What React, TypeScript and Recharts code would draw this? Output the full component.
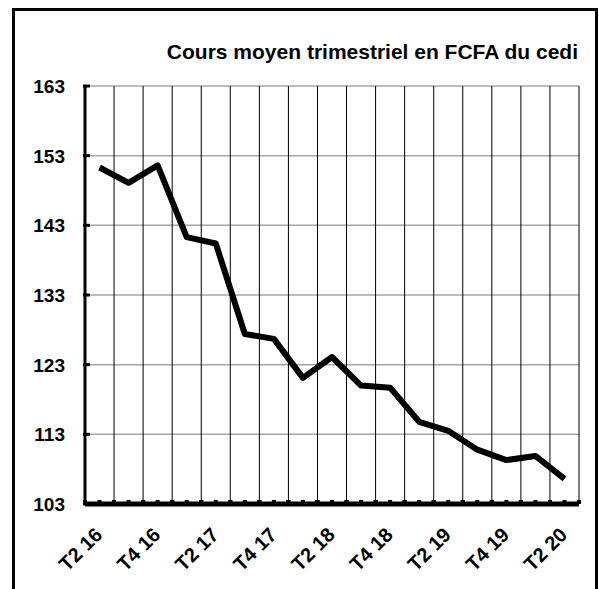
import React from "react";
import { LineChart, Line, XAxis, YAxis, CartesianGrid } from "recharts";

const quarters = [
  "T2 16", "T3 16", "T4 16", "T1 17", "T2 17", "T3 17", "T4 17", "T1 18", "T2 18",
  "T3 18", "T4 18", "T1 19", "T2 19", "T3 19", "T4 19", "T1 20", "T2 20",
];
const cediRate = [
  151.3, 149.1, 151.6, 141.3, 140.4, 127.4, 126.7, 121.1, 124.1,
  120.0, 119.7, 114.8, 113.5, 110.8, 109.3, 109.9, 106.6,
];
const yTicks = [103, 113, 123, 133, 143, 153, 163];
const title = "Cours moyen trimestriel en FCFA du cedi";

const data = quarters.map((q, i) => ({ q, v: cediRate[i] }));

const W = 599;
const H = 589;
const MARGIN = { top: 86, right: 20, left: 25, bottom: 15 };
const Y_W = 60;
const X_H = 70;
const PLOT_W = W - MARGIN.left - Y_W - MARGIN.right;
const BAND = PLOT_W / quarters.length;
const FONT = "'Liberation Sans', Arial, sans-serif";

const renderYTick = (props: any) => {
  const { x, y, payload } = props;
  const ax = x + 20;
  return (
    <g key={`y-${payload.value}`}>
      <line x1={ax - 2} x2={ax + 5} y1={y} y2={y} stroke="#000" strokeWidth={3} />
      <text x={x} y={y} dy={7} textAnchor="end" fontFamily={FONT} fontWeight="bold" fontSize={19} fill="#000">
        {payload.value}
      </text>
    </g>
  );
};

const renderXTick = (props: any) => {
  const { x, y, payload, index } = props;
  const marks = [-BAND / 2, 0, BAND / 2];
  const lx = x + 4;
  const ly = y + 30;
  return (
    <g key={`x-${index}`}>
      {marks.map((mx, i) => (
        <rect key={i} x={x + mx - 2} y={y - 6} width={4} height={4} fill="#000" />
      ))}
      {index % 2 === 0 && (
        <text
          x={lx}
          y={ly}
          textAnchor="end"
          transform={`rotate(-45, ${lx}, ${ly})`}
          fontFamily={FONT}
          fontWeight="bold"
          fontSize={20}
          fill="#000"
        >
          {payload.value}
        </text>
      )}
    </g>
  );
};

export default function App() {
  return (
    <div style={{ position: "relative", width: W, height: H, overflow: "hidden", background: "#fff" }}>
      <style>{`body{margin:0;overflow:hidden}`}</style>
      <div
        style={{
          position: "absolute",
          left: 12,
          top: 8,
          width: 586,
          height: 620,
          border: "3px solid #000",
          boxSizing: "border-box",
        }}
      />
      <div
        style={{
          position: "absolute",
          right: 21,
          top: 40,
          fontFamily: FONT,
          fontWeight: "bold",
          fontSize: 21,
          lineHeight: "24px",
          color: "#000",
          whiteSpace: "nowrap",
        }}
      >
        {title}
      </div>
      <div style={{ position: "absolute", left: 0, top: 0 }}>
        <LineChart width={W} height={H} data={data} margin={MARGIN}>
          <CartesianGrid stroke="#a6a6a6" strokeWidth={1.5} vertical={false} />
          <CartesianGrid
            horizontal={false}
            stroke="#000"
            strokeWidth={1}
            verticalCoordinatesGenerator={({ offset }: any) =>
              Array.from({ length: quarters.length + 1 }, (_, i) => offset.left + (i * offset.width) / quarters.length)
            }
          />
          <XAxis
            dataKey="q"
            interval={0}
            height={X_H}
            tickSize={0}
            tickLine={false}
            padding={{ left: BAND / 2, right: BAND / 2 }}
            axisLine={{ stroke: "#000", strokeWidth: 5 }}
            tick={renderXTick}
          />
          <YAxis
            domain={[103, 163]}
            ticks={yTicks}
            width={Y_W}
            tickSize={0}
            tickMargin={20}
            tickLine={false}
            axisLine={{ stroke: "#000", strokeWidth: 3 }}
            tick={renderYTick}
            interval={0}
          />
          <Line
            dataKey="v"
            type="linear"
            stroke="#000"
            strokeWidth={6}
            strokeLinejoin="round"
            dot={false}
            isAnimationActive={false}
          />
        </LineChart>
      </div>
    </div>
  );
}
